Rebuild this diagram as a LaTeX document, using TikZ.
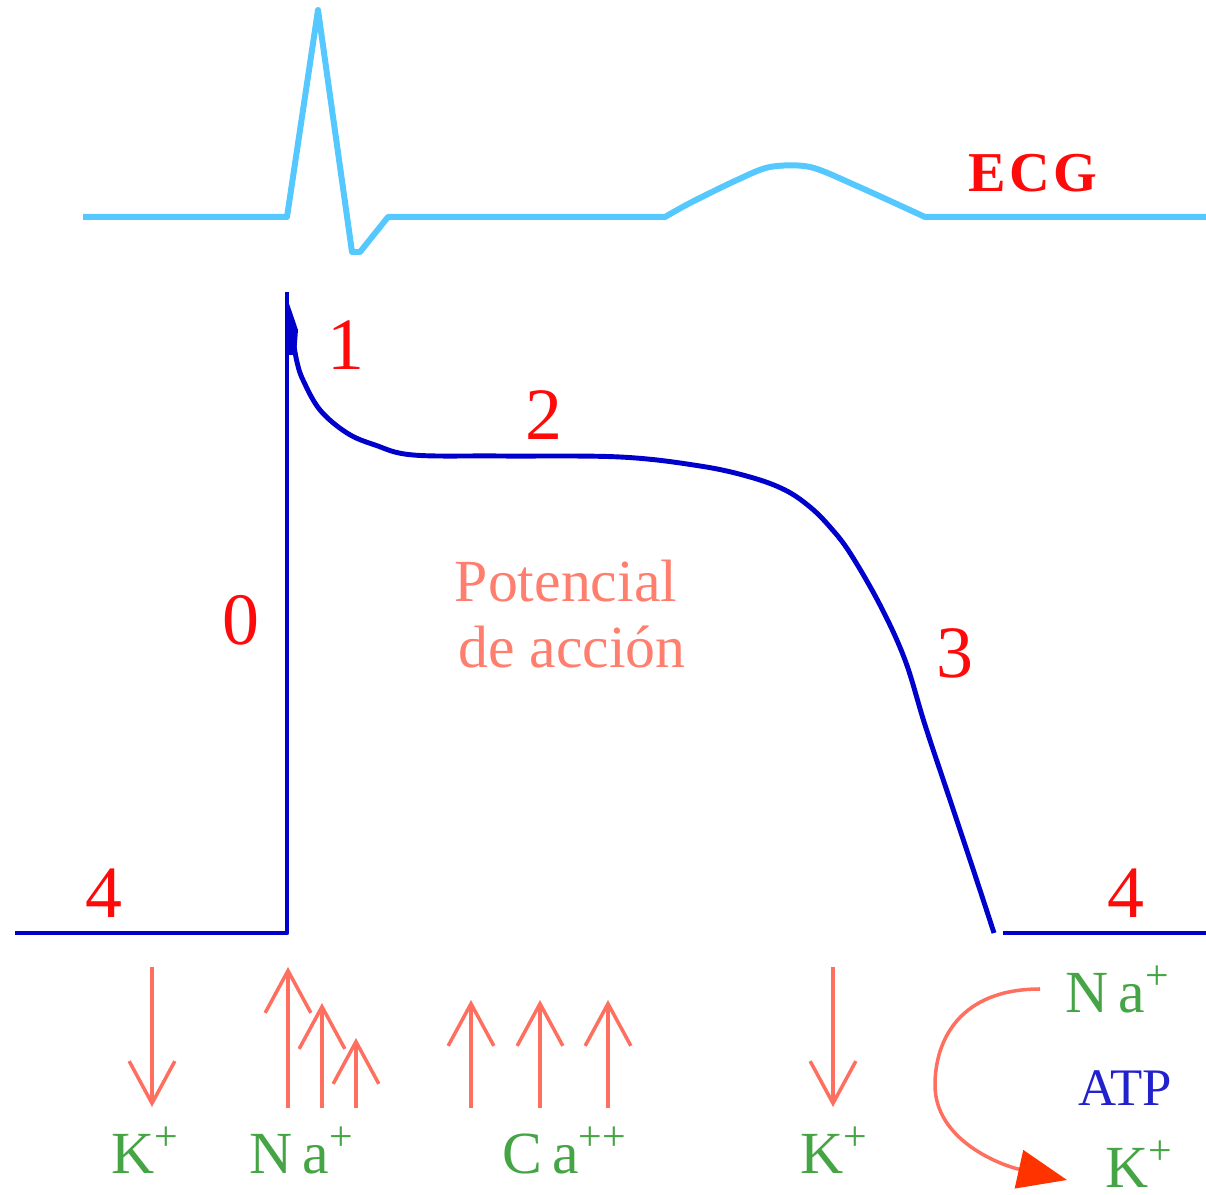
\documentclass[tikz,border=0pt]{standalone}
\usepackage{fontspec}
\setmainfont{Liberation Serif}
\usetikzlibrary{arrows.meta}
\definecolor{ecgblue}{HTML}{55C8FF}
\definecolor{apblue}{HTML}{0000CC}
\definecolor{numred}{HTML}{FF0A0A}
\definecolor{salmon}{HTML}{FF7E6E}
\definecolor{fluxred}{HTML}{FF6F5F}
\definecolor{headred}{HTML}{FF3300}
\definecolor{iongreen}{HTML}{45A545}
\definecolor{atpblue}{HTML}{2222CC}
\begin{document}
\begin{tikzpicture}[x=0.01cm,y=-0.01cm,
  ecg/.style={ecgblue,line width=1.7pt,line join=round},
  ap/.style={apblue,line width=1.4pt,line join=round},
  phase/.style={numred,anchor=base,font=\fontsize{21}{25}\selectfont},
  aplabel/.style={salmon,anchor=base,font=\fontsize{17}{20}\selectfont},
  ion/.style={iongreen,anchor=base,inner sep=0pt,font=\fontsize{17}{20}\selectfont},
  flux/.style={fluxred,line width=1pt,-{Straight Barb[length=12pt,width=13pt]}},
  pump/.style={fluxred,line width=1pt,-{Triangle[length=14pt,width=11pt,color=headred]}}]
\useasboundingbox (0,0) rectangle (1206,1195);

% ECG trace
\draw[ecg] (83,217) -- (287,217) -- (318,10) -- (352,252) -- (360,252) -- (388,217) -- (665,217)
  -- plot[smooth,tension=0.5] coordinates {(665,217) (690,203) (737,180) (770,167) (810,167) (857,186) (925,217)}
  -- (1206,217);
\node[font=\fontsize{16}{19}\selectfont\bfseries,numred,anchor=base] (ecg) at (1033,192) {E\hspace{0.06em}C\hspace{0.06em}G};

% action potential
\draw[ap] (15,933) -- (287,933) -- (287,292);
\fill[apblue] (285,292) -- (298,330) -- (296,355) -- (285,355) -- cycle;
\draw[ap] plot[smooth,tension=0.6] coordinates {(293,340) (297,362) (303,380) (320,410) (347,433)
  (375,445) (413,455) (500,456) (620,457) (700,466) (750,477) (785,490) (810,507)
  (830,527) (850,553) (880,605) (905,660) (925,725) (950,800) (975,875) (994,933)};
\draw[ap] (1003,933) -- (1206,933);

\node[phase] (ph0) at (241,645) {0};
\node[phase] (ph1) at (346,370) {1};
\node[phase] (ph2) at (544,440) {2};
\node[phase] (ph3) at (955,678) {3};
\node[phase] (ph4a) at (104,918) {4};
\node[phase] (ph4b) at (1126,918) {4};
\node[aplabel] (pot) at (566,602) {Potencial};
\node[aplabel] (acc) at (572,668) {de acción};

% ion currents
\draw[flux] (152,967) -- (152,1107);
\draw[flux] (288,1108) -- (288,967);
\draw[flux] (322,1108) -- (322,1003);
\draw[flux] (356,1108) -- (356,1038);
\foreach \x in {471,540,608}
  \draw[flux] (\x,1108) -- (\x,1000);
\draw[flux] (833,967) -- (833,1107);

\node[ion] (kout) at (146,1173) {K\textsuperscript{+}};
\node[ion] (nain) at (302,1173) {N\,a\textsuperscript{+}};
\node[ion] (cain) at (565,1173) {C\,a\textsuperscript{++}};
\node[ion] (kout2) at (835,1173) {K\textsuperscript{+}};

% Na/K pump
\node[ion] (napump) at (1118,1012) {N\,a\textsuperscript{+}};
\node[atpblue,anchor=base,font=\fontsize{15}{18}\selectfont] (atp) at (1125,1105) {ATP};
\node[ion] (kpump) at (1140,1187) {K\textsuperscript{+}};
\coordinate (pumpin) at (1040,989);
\coordinate (pumpout) at (1067,1180);
\draw[pump] (pumpin) .. controls (960,989) and (935,1040) .. (935,1085)
  .. controls (935,1140) and (1000,1165) .. (pumpout);
\end{tikzpicture}
\end{document}
